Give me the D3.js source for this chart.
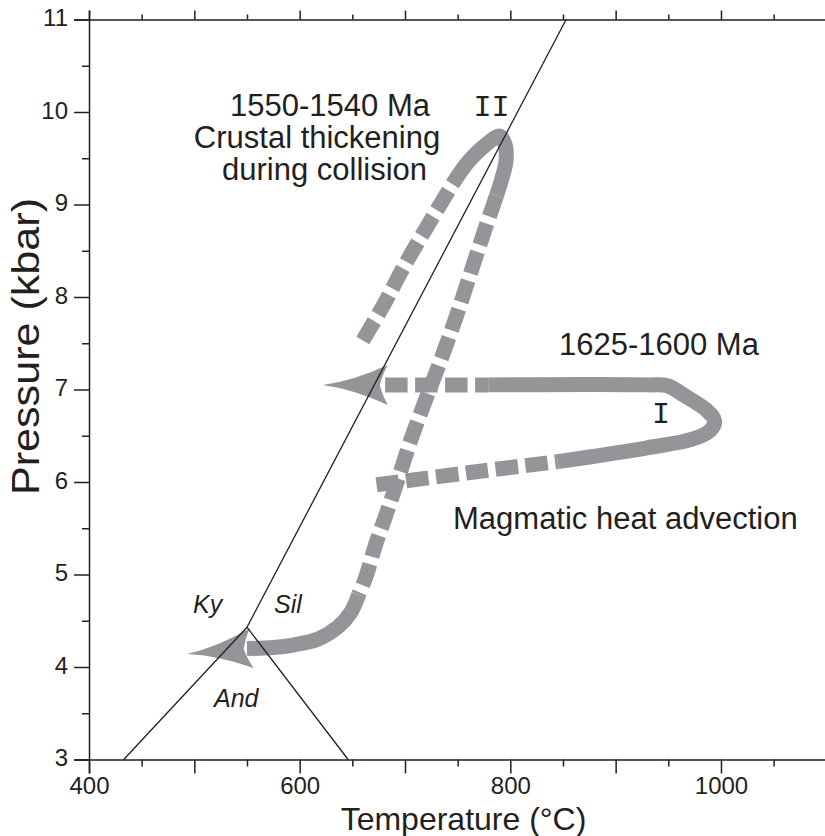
<!DOCTYPE html>
<html>
<head>
<meta charset="utf-8">
<script src="https://cdn.jsdelivr.net/npm/d3@7"></script>
<style>
  body { margin: 0; background: #fff; }
  svg { display: block; }
  text { font-family: "Liberation Sans", Arial, Helvetica, sans-serif; fill: #231f20; }
</style>
</head>
<body>
<svg id="chart" width="825" height="836"></svg>
<script>
// ---- Axis ticks ----
const xMajorTicks = [400, 500, 600, 700, 800, 900, 1000, 1100];
const xMinorTicks = [450, 550, 650, 750, 850, 950, 1050];
const xTickLabels = [400, 600, 800, 1000];
const yMajorTicks = [3, 4, 5, 6, 7, 8, 9, 10, 11];
const yMinorTicks = [3.5, 4.5, 5.5, 6.5, 7.5, 8.5, 9.5, 10.5];

// ---- Aluminosilicate reaction lines (T °C, P kbar) ----
const kySil  = [[550, 4.43], [853, 11]];
const kyAnd  = [[433, 3], [550, 4.43]];
const andSil = [[550, 4.43], [646, 3]];

// ---- Path I : 1625-1600 Ma, magmatic heat advection ----
const pathI_dashedIn  = [[673, 5.97], [760, 6.10], [845, 6.22]];
const pathI_solid     = [[845, 6.22], [930, 6.37], [972, 6.46], [989, 6.55], [994, 6.66],
                         [986, 6.78], [966, 6.93], [949, 7.04], [930, 7.05], [779, 7.05]];
const pathI_dashedOut = [[779, 7.05], [674, 7.05]];
const pathI_tip       = [622, 7.05];

// ---- Path II : 1550-1540 Ma, crustal thickening during collision ----
const pathII_dashedIn  = [[660, 7.53], [680, 7.92], [700, 8.35], [722, 8.78], [745, 9.22]];
const pathII_solidTop  = [[745, 9.22], [760, 9.46], [776, 9.64], [790, 9.74], [795, 9.65],
                          [796, 9.48], [792, 9.28], [787, 9.10]];
const pathII_dashedMid = [[787, 9.10], [775, 8.70], [762, 8.25], [749, 7.80], [735, 7.35],
                          [720, 6.90], [706, 6.47], [694, 6.05], [683, 5.68], [672, 5.32],
                          [663, 4.98], [656, 4.78]];
const pathII_solidEnd  = [[656, 4.78], [648, 4.58], [636, 4.43], [617, 4.30], [595, 4.24],
                          [575, 4.21], [550, 4.20]];
const pathII_tip       = [493, 4.14];

// ---- Drawing ----
const svg = d3.select("#chart");
const ink = "#231f20";
const grey = "#939598";
const bandWidth = 15;

const x = d3.scaleLinear().domain([400, 1100]).range([89, 826.3]);
const y = d3.scaleLinear().domain([3, 11]).range([759.5, 19.5]);

// frame axes
function styleAxis(g) {
  g.select(".domain").attr("stroke", ink).attr("stroke-width", 1.5);
  g.selectAll(".tick line").attr("stroke", ink).attr("stroke-width", 1.5);
  g.selectAll(".tick text").attr("fill", ink).style("font-size", "24px")
    .style("font-family", '"Liberation Sans", Arial, Helvetica, sans-serif');
}
function noDomain(g) { g.select(".domain").remove(); }

// bottom
svg.append("g").attr("transform", `translate(0,${y(3)})`)
  .call(d3.axisBottom(x).tickValues(xMajorTicks).tickSize(14).tickPadding(3)
    .tickFormat(d => xTickLabels.includes(d) ? d : ""))
  .call(styleAxis);
svg.append("g").attr("transform", `translate(0,${y(3)})`)
  .call(d3.axisBottom(x).tickValues(xMinorTicks).tickSize(7).tickFormat(""))
  .call(styleAxis).call(noDomain);
// top
svg.append("g").attr("transform", `translate(0,${y(11)})`)
  .call(d3.axisTop(x).tickValues(xMajorTicks).tickSize(9).tickFormat(""))
  .call(styleAxis);
svg.append("g").attr("transform", `translate(0,${y(11)})`)
  .call(d3.axisTop(x).tickValues(xMinorTicks).tickSize(5).tickFormat(""))
  .call(styleAxis).call(noDomain);
// left
svg.append("g").attr("transform", `translate(${x(400)},0)`)
  .call(d3.axisLeft(y).tickValues(yMajorTicks).tickSize(15).tickPadding(6))
  .call(styleAxis)
  .call(g => g.selectAll(".tick text").attr("dy", "0.27em"));
svg.append("g").attr("transform", `translate(${x(400)},0)`)
  .call(d3.axisLeft(y).tickValues(yMinorTicks).tickSize(7).tickFormat(""))
  .call(styleAxis).call(noDomain);
// right
svg.append("g").attr("transform", `translate(${x(1100)},0)`)
  .call(d3.axisRight(y).tickValues(yMajorTicks).tickSize(9).tickFormat(""))
  .call(styleAxis);

// axis titles
svg.append("text")
  .attr("x", 463.5).attr("y", 830)
  .attr("text-anchor", "middle")
  .style("font-size", "32px")
  .text("Temperature (°C)");
svg.append("text")
  .attr("transform", "translate(39,346.5) rotate(-90)")
  .attr("text-anchor", "middle")
  .attr("textLength", 297).attr("lengthAdjust", "spacingAndGlyphs")
  .style("font-size", "38px")
  .text("Pressure (kbar)");

// P-T paths
const line = d3.line().x(d => x(d[0])).y(d => y(d[1])).curve(d3.curveCatmullRom.alpha(0.5));
const plain = d3.line().x(d => x(d[0])).y(d => y(d[1]));
const gPaths = svg.append("g");

const dash = 22.5, gap = 7.5;
function drawBand(points, dashed, endWithGap) {
  const p = gPaths.append("path")
    .attr("d", points.length > 2 ? line(points) : plain(points))
    .attr("fill", "none")
    .attr("stroke", grey)
    .attr("stroke-width", bandWidth)
    .attr("stroke-linejoin", "round")
    .attr("stroke-linecap", "butt");
  if (dashed) {
    p.attr("stroke-dasharray", `${dash},${gap}`);
    if (endWithGap) {
      const L = p.node().getTotalLength();
      const period = dash + gap;
      p.attr("stroke-dashoffset", period - (L % period));
    }
  }
  return p;
}

// concave arrowhead pointing from `from` to `tip`
function drawArrow(from, tip) {
  const fx = x(from[0]), fy = y(from[1]);
  const tx = x(tip[0]), ty = y(tip[1]);
  const ang = Math.atan2(ty - fy, tx - fx) * 180 / Math.PI;
  gPaths.append("path")
    .attr("d", "M0,0 Q-30,-4 -65,-20 Q-59,-9 -57,0 Q-59,9 -65,20 Q-30,4 0,0 Z")
    .attr("transform", `translate(${tx},${ty}) rotate(${ang})`)
    .attr("fill", grey);
}

drawBand(pathI_dashedIn, true, false);
drawBand(pathI_solid, false);
drawBand(pathI_dashedOut, true, true);
drawArrow(pathI_dashedOut[pathI_dashedOut.length - 1], pathI_tip);

drawBand(pathII_dashedIn, true, false);
drawBand(pathII_solidTop, false);
drawBand(pathII_dashedMid, true, false);
drawBand(pathII_solidEnd, false);
drawArrow(pathII_solidEnd[pathII_solidEnd.length - 1], pathII_tip);

// reaction lines
[kySil, kyAnd, andSil].forEach(seg => {
  svg.append("path").attr("d", plain(seg))
    .attr("fill", "none").attr("stroke", ink).attr("stroke-width", 1.3);
});

// annotations
function label(t, p, txt, size, anchor, extra) {
  const el = svg.append("text")
    .attr("x", x(t)).attr("y", y(p))
    .attr("text-anchor", anchor)
    .style("font-size", size + "px")
    .text(txt);
  if (extra) extra(el);
  return el;
}
label(628.8, 9.957, "1550-1540 Ma", 31, "middle");
label(616.5, 9.611, "Crustal thickening", 31, "middle");
label(623.6, 9.265, "during collision", 31, "middle");
label(846.2, 7.373, "1625-1600 Ma", 31, "start");
label(745.6, 5.492, "Magmatic heat advection", 31, "start");

const mono = el => el.style("font-family", '"Liberation Mono", "Courier New", monospace');
label(782.1, 9.957, "II", 30, "middle", mono);
label(943, 6.638, "I", 30, "middle", mono);

const ital = el => el.style("font-style", "italic");
label(498.7, 4.584, "Ky", 25, "start", ital);
label(575.6, 4.584, "Sil", 25, "start", ital);
label(518.7, 3.568, "And", 25, "start", ital);
</script>
</body>
</html>
